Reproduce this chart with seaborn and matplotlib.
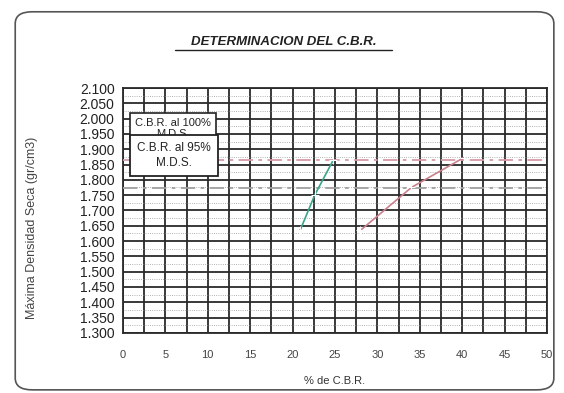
import numpy as np
import pandas as pd
import matplotlib
matplotlib.use("Agg")
import matplotlib.pyplot as plt
from matplotlib.patches import FancyBboxPatch
import seaborn as sns

# valores
cbr_100 = [20.9, 22.6, 24.8]
dens_100 = [1.636, 1.750, 1.865]
cbr_95 = [28.0, 34.0, 40.2]
dens_95 = [1.635, 1.775, 1.873]
mds = 1.865
mds_95 = 1.772

x_ticks = np.arange(0, 51, 5)
y_ticks = np.arange(1.300, 2.1001, 0.05)
y_labels = ["%.3f" % v for v in y_ticks]

df = pd.concat([
    pd.DataFrame({"cbr": cbr_100, "dens": dens_100, "serie": "100"}),
    pd.DataFrame({"cbr": cbr_95, "dens": dens_95, "serie": "95"}),
])

sns.set_style("white")
plt.rcParams["font.family"] = ["Liberation Sans", "DejaVu Sans"]

fig = plt.figure(figsize=(5.64, 3.93), dpi=100)
ax = fig.add_axes([0.218, 0.153, 0.752, 0.623])

# marco redondeado del gráfico
fig.patches.append(FancyBboxPatch((0.027, 0.008), 0.955, 0.962, boxstyle="round,pad=0,rounding_size=0.03",
                                  transform=fig.transFigure, fill=False, edgecolor="#555555", linewidth=1.2))

sns.lineplot(data=df, x="cbr", y="dens", hue="serie", palette={"100": "#3aa58c", "95": "#c9808c"},
             marker="+", markersize=6, linewidth=1.2, legend=False, ax=ax, zorder=4)

ax.axhline(mds, color="#d89aa6", linestyle=(0, (8, 3, 2, 3)), linewidth=1.3, zorder=3)
ax.axhline(mds_95, color="#a0a0a0", linestyle=(0, (8, 3, 2, 3)), linewidth=1.3, zorder=3)

ax.set_xlim(0, 50)
ax.set_ylim(1.300, 2.100)
ax.set_xticks(x_ticks)
ax.set_xticks(np.arange(0, 50.1, 2.5), minor=True)
ax.set_yticks(y_ticks)
ax.set_yticklabels(y_labels)
ax.set_yticks(np.arange(1.325, 2.1, 0.05), minor=True)
ax.grid(which="major", color="#2a2a2a", linewidth=1.3)
ax.grid(which="minor", axis="x", color="#2a2a2a", linewidth=1.3)
ax.grid(which="minor", axis="y", color="#999999", linewidth=0.6, linestyle=":")
ax.tick_params(axis="both", which="both", length=0)
ax.tick_params(axis="y", labelsize=10, pad=6, labelcolor="#222222")
ax.tick_params(axis="x", labelsize=8, pad=12, labelcolor="#444444")
for s in ax.spines.values():
    s.set_color("#2a2a2a")
    s.set_linewidth(1.3)

ax.set_xlabel("% de C.B.R.", fontsize=8, color="#333333")
ax.xaxis.set_label_coords(0.5, -0.175)
ax.set_ylabel("Máxima Densidad Seca (gr/cm3)", fontsize=9, color="#444444")
ax.yaxis.set_label_coords(-0.2, 0.43)

ax.text(0.118, 0.835, "C.B.R. al 100%\nM.D.S.", transform=ax.transAxes, ha="center", va="center",
        fontsize=8, color="#222222", zorder=6,
        bbox=dict(boxstyle="square,pad=0.45", facecolor="white", edgecolor="#222222", linewidth=1.2))
ax.text(0.12, 0.725, "C.B.R. al 95%\nM.D.S.", transform=ax.transAxes, ha="center", va="center",
        fontsize=8.5, color="#222222", zorder=7, linespacing=1.3,
        bbox=dict(boxstyle="square,pad=0.6", facecolor="white", edgecolor="#222222", linewidth=1.3))

fig.text(0.503, 0.892, "DETERMINACION DEL C.B.R.", ha="center", va="center", fontsize=9.5,
         fontweight="bold", fontstyle="italic", color="#222222")
fig.add_artist(plt.Line2D([0.31, 0.695], [0.872, 0.872], transform=fig.transFigure, color="#222222", linewidth=1))

fig.savefig("out.png", dpi=100)
